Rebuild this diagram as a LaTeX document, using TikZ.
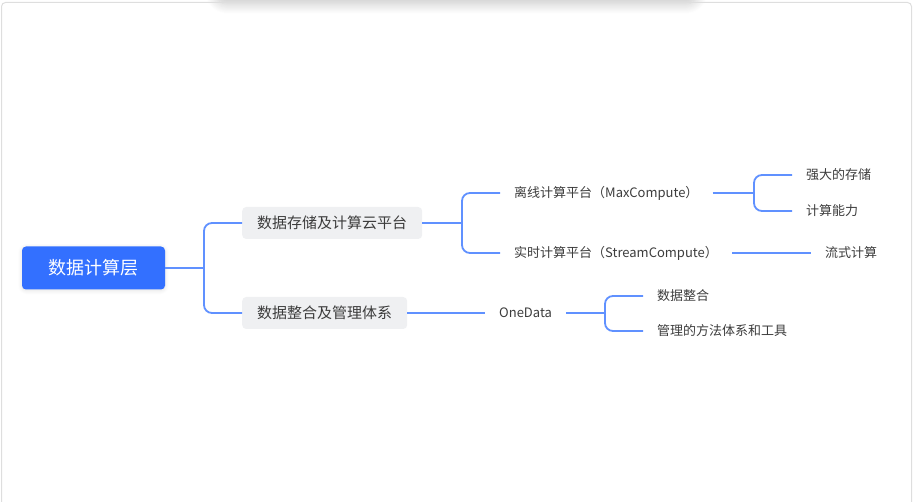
\documentclass[tikz,border=0pt]{standalone}
\usepackage{fontspec}
\setmainfont{Noto Sans CJK SC}
\usetikzlibrary{shadows.blur}
\definecolor{rootblue}{RGB}{51,112,255}
\definecolor{linkblue}{RGB}{96,145,255}
\definecolor{boxgray}{RGB}{239,240,242}
\definecolor{txt}{RGB}{60,60,60}
\definecolor{frame}{RGB}{222,222,222}
\tikzset{
  rootbox/.style={fill=rootblue, text=white, rounded corners=4pt, font=\fontsize{18}{20}\selectfont,
     minimum width=143pt, minimum height=43pt, inner sep=0pt,
     blur shadow={shadow blur steps=6, shadow xshift=0pt, shadow yshift=-1pt, shadow opacity=12, shadow blur radius=4pt}},
  midbox/.style={fill=boxgray, text=txt, rounded corners=4pt, font=\fontsize{15}{17}\selectfont,
     inner xsep=15pt, minimum height=32pt, inner ysep=0pt},
  leaf/.style={text=txt, font=\fontsize{13}{15}\selectfont, inner xsep=14pt, inner ysep=3pt},
  link/.style={draw=linkblue, line width=1.8pt, rounded corners=8pt},
  topcard/.style={fill=white, rounded corners=12pt,
     blur shadow={shadow blur steps=12, shadow xshift=0pt, shadow yshift=-8pt, shadow opacity=22, shadow blur radius=10pt}},
}
\begin{document}
\begin{tikzpicture}[x=1pt,y=-1pt]
\useasboundingbox (0,0) rectangle (913,502);
% shadow of the card above, then the card frame
\path[topcard] (215,-60) rectangle (698,-4);
\fill[white] (0,-100) rectangle (913,0);
\draw[frame, line width=1pt, rounded corners=4pt] (1.5,510) -- (1.5,2.5) -- (911.5,2.5) -- (911.5,510);

% nodes
\node[rootbox] (root) at (93.5,268) {数据计算层};
\node[midbox, anchor=west] (b1) at (242,223) {数据存储及计算云平台};
\node[midbox, anchor=west] (b2) at (242,313) {数据整合及管理体系};

\node[leaf, anchor=west] (max) at (500,193) {离线计算平台（MaxCompute）};
\node[leaf, anchor=west] (stream) at (500,253) {实时计算平台（StreamCompute）};
\node[leaf, anchor=west] (s1) at (792,175) {强大的存储};
\node[leaf, anchor=west] (s2) at (792,211) {计算能力};
\node[leaf, anchor=west] (flow) at (811,253) {流式计算};
\node[leaf, anchor=west] (one) at (485,313) {OneData};
\node[leaf, anchor=west] (o1) at (643,296) {数据整合};
\node[leaf, anchor=west] (o2) at (643,331) {管理的方法体系和工具};

% junctions
\coordinate (j0) at (204,268);
\coordinate (j1) at (462,223);
\coordinate (j2) at (754,193);
\coordinate (j3) at (605,313);

% connectors
\draw[link] (root.east) -- (j0);
\draw[link] (j0) |- (b1.west);
\draw[link] (j0) |- (b2.west);
\draw[link] (b1.east) -- (j1);
\draw[link] (j1) |- (max.west);
\draw[link] (j1) |- (stream.west);
\draw[link] (max.east) -- (j2);
\draw[link] (j2) |- (s1.west);
\draw[link] (j2) |- (s2.west);
\draw[link] (stream.east) -- (flow.west);
\draw[link] (b2.east) -- (one.west);
\draw[link] (one.east) -- (j3);
\draw[link] (j3) |- (o1.west);
\draw[link] (j3) |- (o2.west);
\end{tikzpicture}
\end{document}
